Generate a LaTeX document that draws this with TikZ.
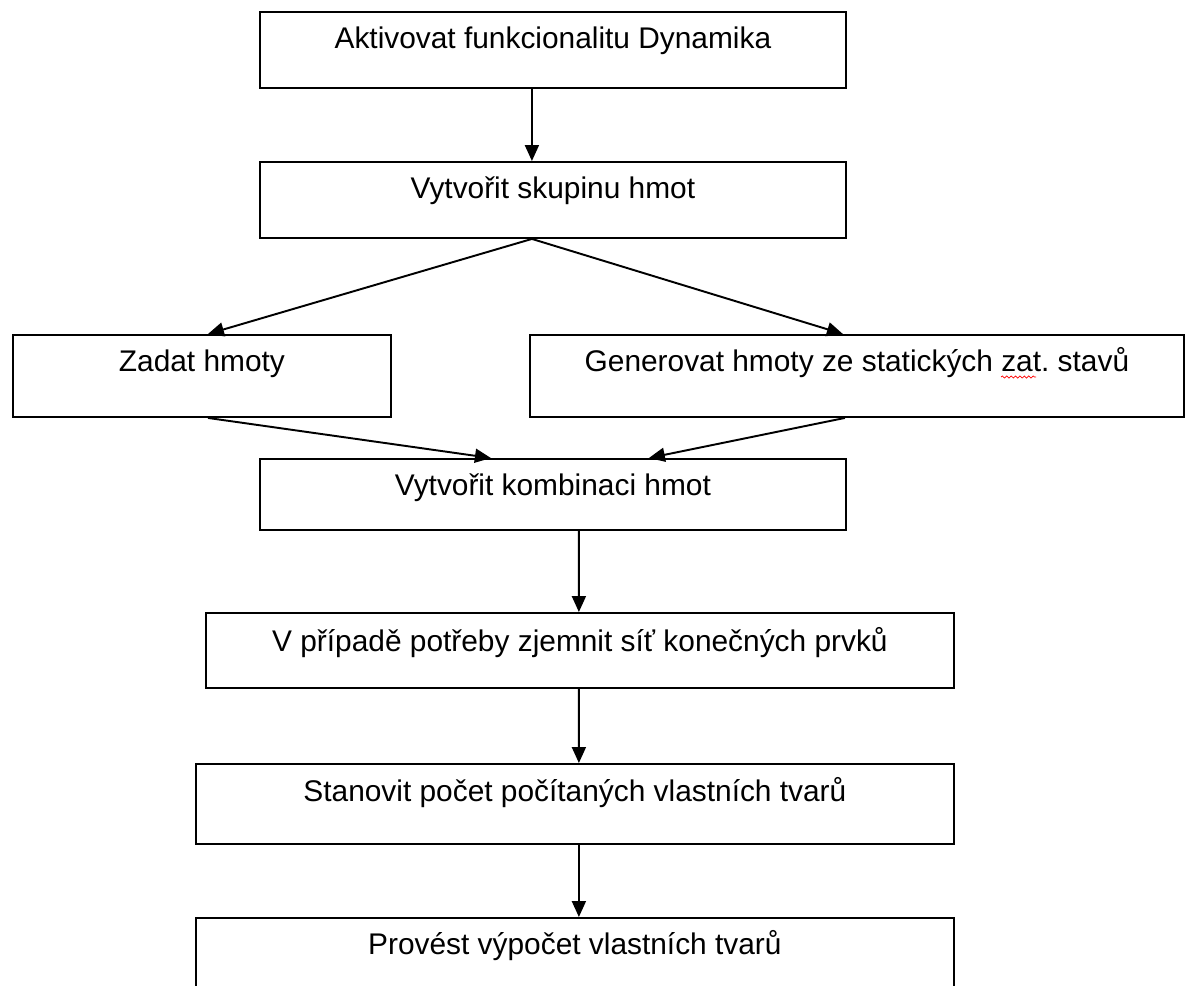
\documentclass[tikz,border=0pt]{standalone}
\usepackage{fontspec}
\setmainfont{Liberation Sans}
\frenchspacing
\usetikzlibrary{arrows.meta,decorations.pathmorphing}
\tikzset{
  stepbox/.style={draw, line width=1.1pt, anchor=north west, inner sep=0pt, text height=0.74cm},
  flow/.style={line width=1.1pt, -{Triangle[length=0.32cm,width=0.28cm]}},
}
\begin{document}
\begin{tikzpicture}[x=0.02cm, y=-0.02cm, font=\fontsize{17}{20}\selectfont]
    \useasboundingbox (0,0) rectangle (1192,985);
    % boxes
    \node[stepbox, minimum width=11.72cm, text depth=0.78cm] (aktivovat) at (259,11) {Aktivovat funkcionalitu Dynamika};
    \node[stepbox, minimum width=11.72cm, text depth=0.78cm] (skupina) at (259,161) {Vytvořit skupinu hmot};
    \node[stepbox, minimum width=7.56cm, text depth=0.9cm] (zadat) at (12,334) {Zadat hmoty};
    \node[stepbox, minimum width=13.08cm, text depth=0.9cm] (generovat) at (529,334) {Generovat hmoty ze statických zat. stavů};
    \node[stepbox, minimum width=11.72cm, text depth=0.68cm] (kombinace) at (259,458) {Vytvořit kombinaci hmot};
    \node[stepbox, minimum width=14.96cm, text height=0.78cm, text depth=0.72cm] (sit) at (205,612) {V případě potřeby zjemnit síť konečných prvků};
    \node[stepbox, minimum width=15.16cm, text height=0.76cm, text depth=0.84cm] (tvary) at (195,763) {Stanovit počet počítaných vlastních tvarů};
    \node[stepbox, minimum width=15.16cm, text depth=2cm] (vypocet) at (195,917) {Provést výpočet vlastních tvarů};
    % spell check mark
    \draw[red, line width=0.4pt, decorate, decoration={snake, amplitude=0.6pt, segment length=2.5pt}] (1001,377) -- (1036,377);
    % arrows
    \draw[flow] ([xshift=-0.42cm]aktivovat.south) -- ([xshift=-0.42cm]skupina.north);
    \draw[flow] ([xshift=-0.42cm]skupina.south) -- ([xshift=0.12cm]zadat.north);
    \draw[flow] ([xshift=-0.42cm]skupina.south) -- ([xshift=-0.28cm]generovat.north);
    \draw[flow] ([xshift=0.12cm]zadat.south) -- ([xshift=-1.24cm]kombinace.north);
    \draw[flow] ([xshift=-0.24cm]generovat.south) -- ([xshift=1.92cm]kombinace.north);
    \draw[flow] ([xshift=0.52cm]kombinace.south) -- ([xshift=-0.02cm]sit.north);
    \draw[flow] ([xshift=-0.02cm]sit.south) -- ([xshift=0.08cm]tvary.north);
    \draw[flow] ([xshift=0.08cm]tvary.south) -- ([xshift=0.08cm]vypocet.north);
\end{tikzpicture}
\end{document}
